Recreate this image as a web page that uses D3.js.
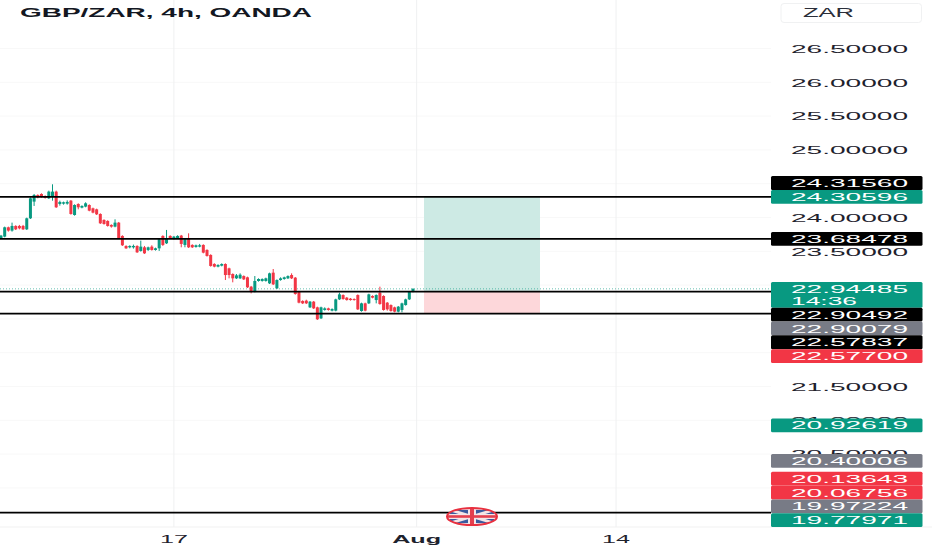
<!DOCTYPE html>
<html><head><meta charset="utf-8">
<script src="https://cdnjs.cloudflare.com/ajax/libs/d3/7.8.5/d3.min.js"></script>
<style>html,body{margin:0;padding:0;background:#fff;overflow:hidden}svg{display:block}text{font-family:"Liberation Sans",Arial,sans-serif}</style>
</head><body><div id="c"></div>
<script>
const opens=[23.692,23.717,23.855,23.806,23.875,23.875,23.875,23.825,23.988,24.235,24.333,24.348,24.318,24.284,24.309,24.383,24.200,24.205,24.205,24.249,24.037,24.200,24.146,24.161,24.185,24.136,24.121,24.052,23.964,23.949,23.890,23.865,23.924,23.727,23.579,23.559,23.559,23.579,23.505,23.559,23.520,23.569,23.520,23.544,23.727,23.618,23.727,23.682,23.692,23.732,23.594,23.692,23.594,23.564,23.569,23.594,23.520,23.446,23.313,23.273,
23.287,23.312,23.248,23.164,23.100,23.100,23.134,23.115,22.977,22.903,23.061,23.061,23.061,23.026,23.184,22.952,23.075,23.090,23.100,23.149,23.110,22.903,22.765,22.770,22.671,22.755,22.671,22.508,22.632,22.656,22.622,22.622,22.789,22.853,22.814,22.799,22.794,22.853,22.617,22.730,22.730,22.839,22.779,22.888,22.839,22.740,22.705,22.671,22.607,22.632,22.705,22.789,22.903];
const closes=[23.732,23.855,23.806,23.875,23.825,23.840,23.825,23.988,24.284,24.333,24.299,24.309,24.289,24.383,24.383,24.151,24.230,24.225,24.230,24.052,24.185,24.151,24.171,24.210,24.101,24.072,24.047,23.914,23.904,23.875,23.865,23.924,23.692,23.589,23.544,23.579,23.579,23.485,23.569,23.470,23.559,23.520,23.544,23.678,23.594,23.692,23.692,23.717,23.727,23.609,23.678,23.559,23.559,23.589,23.589,23.480,23.431,23.283,23.273,23.298,
23.312,23.149,23.149,23.100,23.144,23.154,23.085,22.967,22.903,23.061,23.090,23.090,23.100,23.174,23.011,23.075,23.100,23.115,23.134,23.100,22.868,22.740,22.730,22.730,22.755,22.656,22.494,22.671,22.656,22.632,22.646,22.789,22.863,22.794,22.779,22.779,22.779,22.641,22.730,22.622,22.863,22.814,22.853,22.720,22.632,22.641,22.617,22.607,22.681,22.730,22.789,22.903,22.945];
const highs=[23.742,23.865,23.865,23.924,23.885,23.890,23.890,23.998,24.299,24.348,24.343,24.358,24.328,24.397,24.491,24.397,24.249,24.235,24.254,24.259,24.195,24.210,24.180,24.225,24.195,24.146,24.131,24.062,23.973,23.959,23.899,23.973,23.934,23.737,23.589,23.589,23.599,23.589,23.658,23.579,23.569,23.589,23.554,23.688,23.737,23.816,23.737,23.727,23.737,23.742,23.688,23.766,23.604,23.599,23.609,23.604,23.530,23.456,23.323,23.308,
23.322,23.322,23.258,23.174,23.164,23.174,23.144,23.125,22.987,23.134,23.100,23.100,23.110,23.184,23.238,23.085,23.115,23.125,23.144,23.174,23.120,22.913,22.775,22.784,22.765,22.765,22.681,22.681,22.671,22.666,22.656,22.799,22.888,22.863,22.824,22.809,22.804,22.863,22.740,22.740,22.873,22.849,22.863,22.977,22.849,22.750,22.715,22.681,22.691,22.740,22.799,22.913,22.952];
const lows=[23.682,23.707,23.791,23.791,23.815,23.825,23.816,23.816,23.978,24.171,24.284,24.294,24.279,24.274,24.249,24.141,24.175,24.190,24.190,24.042,24.027,24.121,24.136,24.151,24.092,24.062,24.037,23.904,23.894,23.865,23.850,23.855,23.682,23.579,23.535,23.544,23.540,23.475,23.495,23.461,23.505,23.510,23.510,23.505,23.579,23.608,23.682,23.673,23.682,23.559,23.559,23.549,23.549,23.554,23.559,23.470,23.421,23.273,23.263,23.263,
23.277,23.075,23.100,23.041,23.090,23.090,23.075,22.957,22.878,22.893,23.051,23.051,23.051,23.016,23.001,22.942,23.065,23.080,23.090,23.090,22.858,22.730,22.720,22.720,22.661,22.646,22.484,22.498,22.622,22.622,22.612,22.612,22.779,22.784,22.770,22.770,22.770,22.632,22.607,22.612,22.720,22.804,22.730,22.710,22.622,22.622,22.607,22.597,22.597,22.597,22.696,22.779,22.893];
const levelLines=[24.30596,23.68478,22.90492,22.57837,19.6332];
const axisTicks=[26.5,26,25.5,25,24,23.5,21.5,21,20.5];
const gridTicks=[26.5,26,25.5,25,24.5,24,23.5,23,22.5,22,21.5,21,20.5,20];
const timeTickIndex=[47,113,167.2];
const timeTickLabels=["17","Aug","14"];
const tagValues=["24.31560","24.30596","23.68478","22.94485","22.90492","22.90079","22.57837","22.57700","20.92619","20.40006","20.13643","20.06756","19.97224","19.77971"];
const tagKinds=["black","green","black","green","black","grey","black","red","green","grey","red","red","grey","green"];
const kindColor={black:"#000000",green:"#089981",grey:"#787b86",red:"#f23645"};
const lastPrice=22.94485, stopPrice=22.57837, entryPrice=22.90492, targetPrice=24.30596;

const W=932,H=550,axisX=771,plotBottom=527;
const y=d3.scaleLinear().domain([24,23.5]).range([217.5,251.3]);
const x=d3.scaleLinear().domain([0,112]).range([1,413]);
const svg=d3.select("#c").append("svg").attr("width",W).attr("height",H);
const green="#089981",red="#f23645";

// grid
svg.append("g").selectAll("line").data(gridTicks).join("line")
 .attr("x1",0).attr("x2",axisX).attr("y1",d=>y(d)).attr("y2",d=>y(d)).attr("stroke","#f8f8f8");
svg.append("g").selectAll("line").data(timeTickIndex).join("line")
 .attr("x1",d=>x(d)).attr("x2",d=>x(d)).attr("y1",0).attr("y2",plotBottom).attr("stroke","#eff0f1");
svg.append("line").attr("x1",0).attr("x2",W).attr("y1",plotBottom).attr("y2",plotBottom).attr("stroke","#f1f1f1");

// position box
svg.append("rect").attr("x",424).attr("width",116).attr("y",y(targetPrice)).attr("height",y(entryPrice)-y(targetPrice)).attr("fill","#cdeae4");
svg.append("rect").attr("x",424).attr("width",116).attr("y",y(entryPrice)).attr("height",y(stopPrice)-y(entryPrice)).attr("fill","#fdd7da");

// last price dotted
svg.append("line").attr("x1",0).attr("x2",axisX).attr("y1",y(lastPrice)).attr("y2",y(lastPrice))
 .attr("stroke",green).attr("stroke-opacity",.6).attr("stroke-dasharray","1 2");

// candles
const idx=d3.range(opens.length);
const g=svg.append("g");
g.selectAll("line").data(idx).join("line")
 .attr("x1",i=>x(i)).attr("x2",i=>x(i)).attr("y1",i=>y(highs[i])).attr("y2",i=>y(lows[i]))
 .attr("stroke",i=>closes[i]>=opens[i]?green:red).attr("stroke-width",1);
g.selectAll("rect").data(idx).join("rect")
 .attr("x",i=>x(i)-1.5).attr("width",3)
 .attr("y",i=>y(Math.max(opens[i],closes[i])))
 .attr("height",i=>Math.max(1,Math.abs(y(opens[i])-y(closes[i]))))
 .attr("fill",i=>closes[i]>=opens[i]?green:red);

// horizontal levels
svg.append("g").selectAll("line").data(levelLines).join("line")
 .attr("x1",0).attr("x2",axisX).attr("y1",d=>y(d)).attr("y2",d=>y(d)).attr("stroke","#000").attr("stroke-width",1.7);

// event flag
const fx=472,fy=516.5,rx=25,ry=8.6;
const defs=svg.append("defs");
defs.append("clipPath").attr("id","fl").append("ellipse").attr("cx",fx).attr("cy",fy).attr("rx",rx).attr("ry",ry);
svg.append("ellipse").attr("cx",fx).attr("cy",fy).attr("rx",rx).attr("ry",ry).attr("fill","#f5eef0");
const f=svg.append("g").attr("clip-path","url(#fl)");
const frx=rx-3,fry=ry-2;
f.append("rect").attr("x",fx-frx).attr("y",fy-fry).attr("width",2*frx).attr("height",2*fry).attr("fill","#3a5a9f");
[[-frx,-fry,frx,fry],[-frx,fry,frx,-fry]].forEach(a=>{
 f.append("line").attr("x1",fx+a[0]).attr("y1",fy+a[1]).attr("x2",fx+a[2]).attr("y2",fy+a[3]).attr("stroke","#f4e4e6").attr("stroke-width",3);});
f.append("rect").attr("x",fx-4).attr("y",fy-ry).attr("width",8).attr("height",2*ry).attr("fill","#f4e6e8");
f.append("rect").attr("x",fx-rx).attr("y",fy-2.5).attr("width",2*rx).attr("height",5).attr("fill","#f4e6e8");
f.append("rect").attr("x",fx-2).attr("y",fy-ry).attr("width",4).attr("height",2*ry).attr("fill","#e4404f");
f.append("rect").attr("x",fx-rx).attr("y",fy-1.3).attr("width",2*rx).attr("height",2.6).attr("fill","#e4404f");
svg.append("ellipse").attr("cx",fx).attr("cy",fy).attr("rx",rx).attr("ry",ry).attr("fill","none").attr("stroke","#e8303f").attr("stroke-width",2);

function wide(sel,xs,w){return sel.attr("x",xs).attr("textLength",w).attr("lengthAdjust","spacingAndGlyphs");}

// title
wide(svg.append("text"),20,292).attr("y",17).attr("font-size",12).attr("font-weight",700).attr("fill","#131722").text("GBP/ZAR, 4h, OANDA");

// ZAR box
svg.append("rect").attr("x",781).attr("y",3.5).attr("width",140.5).attr("height",19).attr("rx",3).attr("fill","#fff").attr("stroke","#f0f1f2");
wide(svg.append("text"),803,51).attr("y",17.2).attr("font-size",12).attr("fill","#2a2e39").text("ZAR");

// right axis labels
const ag=svg.append("g");
axisTicks.forEach(t=>{
 wide(ag.append("text"),791,117).attr("y",y(t)+4.2).attr("font-size",11.5).attr("fill","#1e222d").text(t.toFixed(5));
});

// price tags, stacked so they do not overlap
const tagH=13.8, tagG=svg.append("g");
const tagPrices=tagValues.map(Number);
const tops=[];
let prevBottom=-Infinity;
tagPrices.forEach((p,i)=>{
  const hh=i===3?25.8:tagH;
  let top=y(p)-tagH/2;
  if(i>0 && top<prevBottom) top=prevBottom;
  tops.push(top); if(i>0) prevBottom=top+hh;
});
// the topmost tag sits above its neighbour
tops[0]=tops[1]-tagH;
tagPrices.forEach((p,i)=>{
  const hh=i===3?25.8:tagH;
  tagG.append("rect").attr("x",771).attr("y",tops[i]).attr("width",151.5).attr("height",hh).attr("rx",1.5).attr("fill",kindColor[tagKinds[i]]);
});
tagPrices.forEach((p,i)=>{
  wide(tagG.append("text"),791,117).attr("y",tops[i]+11).attr("font-size",11.5).attr("fill","#fff").text(tagValues[i]);
  if(i===3) wide(tagG.append("text"),791,66).attr("y",tops[i]+23.3).attr("font-size",11.5).attr("fill","#fff").text("14:36");
});

// time axis
timeTickIndex.forEach((d,i)=>{
  const s=timeTickLabels[i], w=s.length===3?49:28;
  wide(svg.append("text"),x(d)-w/2,w).attr("y",542.5).attr("font-size",11.5)
   .attr("font-weight",s==="Aug"?700:400).attr("fill","#1e222d").text(s);
});
</script></body></html>
